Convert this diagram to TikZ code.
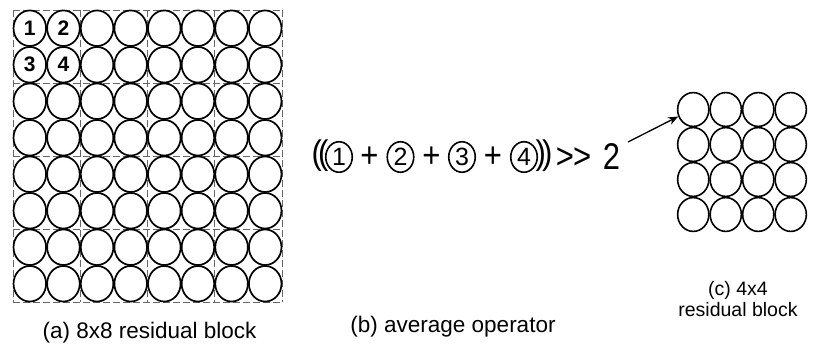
\documentclass[tikz,border=0pt]{standalone}
\usepackage{fontspec}
\setmainfont{Liberation Sans}
\usetikzlibrary{shapes.geometric,arrows.meta}
\begin{document}
\begin{tikzpicture}[x=1pt,y=-1pt,
  bigcell/.style={ellipse,draw=black,fill=white,line width=1.7pt,minimum width=32.6pt,minimum height=35.6pt,inner sep=0pt},
  smallcell/.style={ellipse,draw=black,fill=white,line width=1.6pt,minimum width=31.2pt,minimum height=33.8pt,inner sep=0pt},
  digit/.style={inner sep=0pt,font=\fontsize{21}{21}\selectfont\bfseries},
  gridline/.style={draw=black!60,line width=0.8pt,dash pattern=on 7pt off 3pt},
  opcircle/.style={ellipse,draw=black,line width=1.6pt,minimum width=26.5pt,minimum height=30.5pt,inner sep=0pt,font=\fontsize{25}{25}\selectfont},
  formula/.style={inner sep=0pt,font=\fontsize{31}{31}\selectfont},
  caption/.style={inner sep=0pt,font=\fontsize{22.5}{24}\selectfont,anchor=base},
  smallcaption/.style={inner sep=0pt,font=\fontsize{19.5}{21.5}\selectfont,align=center,anchor=base},
  arrowline/.style={line width=1.3pt,-{Stealth[length=10pt,width=8pt]}}
]
\useasboundingbox (0,0) rectangle (813,347);
% dashed 2x2 grid of the 8x8 block
\foreach \i in {0,...,4} {
  \draw[gridline] ({13+67.25*\i},10) -- ({13+67.25*\i},302);
  \draw[gridline] (13,{10+73*\i}) -- (282,{10+73*\i});
}
% 8x8 circles
\foreach \r in {1,...,8} {
  \foreach \c in {1,...,8} {
    \node[bigcell] (a\r\c) at ({13+33.625*(\c-0.5)},{10+36.5*(\r-0.5)}) {};
  }
}
\node[digit] at (a11) {1};
\node[digit] at (a12) {2};
\node[digit] at (a21) {3};
\node[digit] at (a22) {4};
% 4x4 circles
\foreach \r in {1,...,4} {
  \foreach \c in {1,...,4} {
    \node[smallcell] (c\r\c) at ({677+32.5*(\c-0.5)},{92+35*(\r-0.5)}) {};
  }
}
% formula
\node[formula] (lp) at (320,156) {\scalebox{1}[1.1]{(\kern-4pt(}};
\node[opcircle] (o1) at (339,157) {1};
\node[formula] (p1) at (369.5,157) {\scalebox{1}[1.15]{+}};
\node[opcircle] (o2) at (400.5,157) {2};
\node[formula] (p2) at (431.5,157) {\scalebox{1}[1.15]{+}};
\node[opcircle] (o3) at (462,157) {3};
\node[formula] (p3) at (493,157) {\scalebox{1}[1.15]{+}};
\node[opcircle] (o4) at (524,157) {4};
\node[formula] (rp) at (544,156) {\scalebox{1}[1.1]{)\kern-4pt)}};
\node[formula] (sh) at (573.5,158) {\scalebox{1}[1.15]{>\kern-1pt>}};
\node[formula] (two) at (611.5,157) {\scalebox{1}[1.2]{2}};
\coordinate (as) at (628,142);
\draw[arrowline] (as) -- (c11.205);
% captions
\node[caption] (capa) at (149.5,338) {(a) 8x8 residual block};
\node[caption] (capb) at (453,332) {(b) average operator};
\node[smallcaption] (capc) at (738,316.7) {(c) 4x4\\residual block};
\end{tikzpicture}
\end{document}
